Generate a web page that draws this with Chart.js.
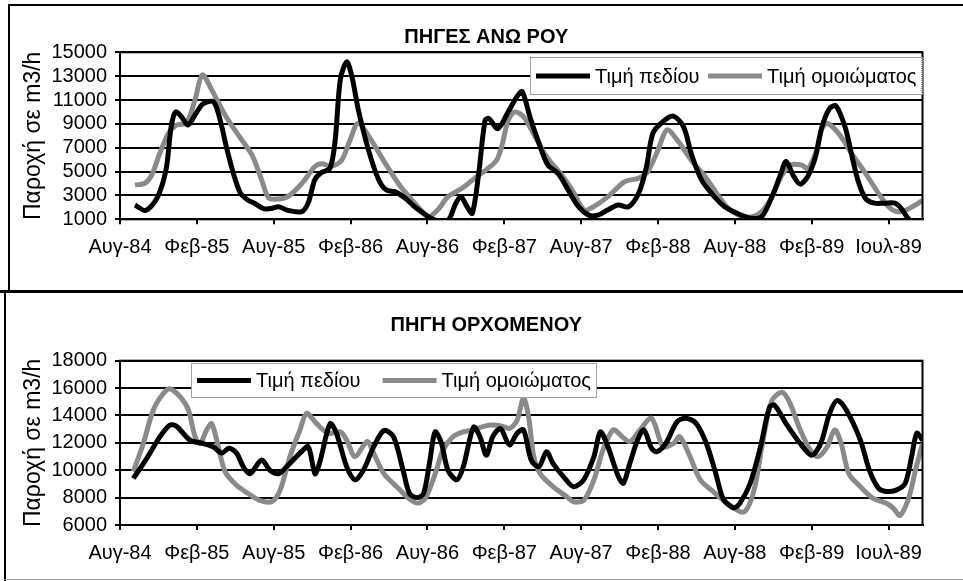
<!DOCTYPE html>
<html>
<head>
<meta charset="utf-8">
<script src="https://cdn.jsdelivr.net/npm/chart.js@4.4.0/dist/chart.umd.min.js"></script>
<style>
html, body { margin: 0; padding: 0; background: #fff; width: 963px; height: 581px; overflow: hidden; }
.panel { position: absolute; left: 8px; width: 974px; height: 290px; }
#topPanel { top: 0; }
#bottomPanel { top: 291px; }
.rule { position: absolute; background: #000; }
</style>
</head>
<body>
<div class="panel" id="topPanel"><canvas id="rouChart" width="974" height="290"></canvas></div>
<div class="panel" id="bottomPanel"><canvas id="orchChart" width="974" height="290"></canvas></div>
<div class="rule" style="left:8px;top:4px;width:955px;height:2px"></div>
<div class="rule" style="left:8px;top:4px;width:2px;height:287px"></div>
<div class="rule" style="left:0;top:290px;width:963px;height:3px"></div>
<div class="rule" style="left:4px;top:290px;width:2px;height:291px"></div>
<div class="rule" style="left:4px;top:579px;width:959px;height:1px;background:#999"></div>
<script>
// x axis: months counted from Aug-84, labelled every 6 months
var tickMonths = [0, 6, 12, 18, 24, 30, 36, 42, 48, 54, 60];
var tickLabels = ['Αυγ-84', 'Φεβ-85', 'Αυγ-85', 'Φεβ-86', 'Αυγ-86', 'Φεβ-87', 'Αυγ-87', 'Φεβ-88', 'Αυγ-88', 'Φεβ-89', 'Ιουλ-89'];
var seriesNames = ['Τιμή πεδίου', 'Τιμή ομοιώματος'];

// ΠΗΓΕΣ ΑΝΩ ΡΟΥ - field values
var rouFieldMonths = [1.17, 2.0, 2.9, 3.6, 4.0, 4.35, 4.8, 5.3, 6.0, 6.5, 7.3, 7.8, 8.3, 8.85, 9.4, 10.0, 10.5, 11.2, 11.8, 12.4,
    13.1, 14.2, 14.7, 15.2, 15.7, 16.4, 16.8, 17.2, 17.7, 18.1, 18.6, 19.4, 20.2, 20.8, 21.5, 22.3, 23.0, 24.1, 24.7, 25.6,
    26.2, 26.6, 27.1, 27.5, 28.0, 28.5, 28.8, 29.5, 30.3, 31.0, 31.4, 32.0, 32.7, 33.4, 34.2, 35.0, 35.8, 36.6, 37.3, 38.1,
    38.9, 39.7, 40.5, 41.1, 41.6, 42.4, 43.2, 44.0, 44.6, 45.4, 46.4, 47.2, 47.9, 48.5, 49.3, 50.1, 50.9, 51.6, 52.0, 52.6,
    53.1, 53.7, 54.3, 54.8, 55.4, 55.9, 56.6, 57.1, 57.6, 58.2, 58.9, 59.7, 60.5, 61.0, 61.5, 62.0];
var rouFieldFlow = [2200, 1750, 2800, 5200, 8800, 10000, 9600, 8900, 10000, 10700, 10850, 9400, 7100, 4850, 3200, 2600, 2350, 1900, 1900, 2050,
    1750, 1650, 2400, 4300, 4900, 5300, 7650, 12700, 14200, 13000, 10200, 6800, 4300, 3450, 3300, 2750, 2050, 1200, 900, 900,
    2300, 2900, 2050, 1500, 4800, 9300, 9450, 8600, 10000, 11300, 11700, 9600, 7400, 5550, 4850, 3450, 2050, 1350, 1350, 1800,
    2200, 2050, 3200, 5400, 8200, 9200, 9650, 8750, 6500, 4300, 2900, 2050, 1650, 1350, 1080, 1220, 2900, 4850, 5850, 4600,
    3950, 4600, 6250, 8750, 10300, 10500, 8750, 6500, 4300, 2750, 2350, 2350, 2350, 1900, 1100, 600];

// ΠΗΓΕΣ ΑΝΩ ΡΟΥ - model values
var rouModelMonths = [1.17, 1.95, 2.47, 3.1, 3.77, 4.4, 5.2, 5.85, 6.43, 7.16, 8.2, 9.24, 10.3, 11.06, 11.6, 12.36, 13.1, 14.2, 15.2, 15.74,
    16.5, 17.3, 17.96, 18.6, 19.6, 20.7, 21.8, 22.8, 23.6, 24.1, 24.9, 25.6, 26.7, 27.7, 28.7, 29.4, 29.8, 30.3, 30.8, 31.5,
    32.4, 33.4, 34.5, 35.3, 36.2, 36.8, 38.1, 39.4, 40.5, 41.2, 42.0, 42.7, 43.6, 44.6, 45.7, 46.5, 47.5, 48.3, 49.3, 50.1,
    50.9, 51.6, 52.3, 53.2, 53.7, 54.3, 54.8, 55.2, 56.1, 57.1, 58.2, 59.2, 60.0, 60.6, 61.3, 62.1, 62.65];
var rouModelFlow = [3880, 4020, 4700, 6500, 8200, 8900, 9100, 11000, 13100, 11850, 9750, 8050, 6400, 4300, 2800, 2700, 2900, 4000, 5400, 5650,
    5450, 5950, 7650, 9050, 7650, 5700, 3900, 2600, 1650, 1200, 1900, 2900, 3600, 4450, 5250, 5950, 7100, 9300, 10000, 9600,
    7950, 6100, 4700, 3450, 1800, 1950, 2900, 4150, 4450, 5000, 6800, 8500, 7500, 5950, 4550, 3300, 1900, 1350, 1200, 1650,
    2900, 4550, 5550, 5550, 5250, 6550, 8600, 9050, 8200, 6550, 4850, 3200, 2050, 1650, 1750, 2200, 2600];

// ΠΗΓΗ ΟΡΧΟΜΕΝΟΥ - field values
var orchFieldMonths = [1.04, 2.08, 3.12, 3.9, 4.43, 5.46, 6.5, 7.3, 7.94, 8.5, 9.1, 9.63, 10.15, 11.06, 11.7, 12.4, 13.0, 14.05, 14.7, 15.22,
    15.6, 16.4, 16.9, 17.7, 18.35, 19.0, 19.8, 20.6, 21.35, 22.1, 22.6, 23.2, 23.7, 24.2, 24.6, 25.1, 25.6, 26.3, 26.8, 27.6,
    28.1, 28.6, 29.1, 29.7, 30.4, 31.0, 31.5, 32.1, 32.7, 33.3, 33.8, 34.6, 35.4, 36.2, 37.0, 37.5, 38.1, 38.9, 39.3, 39.8,
    40.4, 40.9, 41.5, 41.9, 42.6, 43.5, 44.2, 45.0, 45.8, 46.5, 47.1, 47.9, 48.4, 49.2, 50.0, 50.7, 51.1, 52.0, 53.1, 54.0,
    54.7, 55.4, 56.0, 56.7, 57.8, 58.5, 59.2, 59.8, 60.6, 61.3, 61.8, 62.2, 62.65];
var orchFieldFlow = [9400, 10850, 12450, 13300, 13200, 12200, 11950, 11700, 11250, 11600, 11250, 10250, 9750, 10750, 10000, 9750, 10250, 11250, 11700, 9750,
    10600, 13400, 12700, 10250, 9300, 10000, 11700, 12900, 12450, 10000, 8300, 8000, 8300, 10750, 12800, 11950, 10000, 9300, 10250, 13150,
    12450, 11100, 12450, 13050, 11850, 12700, 12950, 10750, 10250, 11350, 10500, 9550, 8800, 9300, 11000, 12800, 11700, 9550, 9050, 10500,
    12200, 12950, 11600, 11350, 11950, 13550, 13800, 13400, 11900, 9800, 7900, 7250, 7600, 9050, 11700, 14600, 14750, 13400, 11950, 11100,
    11950, 14150, 15100, 14400, 12200, 10000, 8700, 8450, 8550, 9050, 11000, 12700, 12200];

// ΠΗΓΗ ΟΡΧΟΜΕΝΟΥ - model values
var orchModelMonths = [1.04, 1.82, 2.6, 3.38, 3.9, 4.7, 5.34, 5.86, 6.25, 6.77, 7.16, 7.68, 8.2, 9.1, 10.0, 10.9, 11.84, 12.5, 13.27, 14.05,
    14.57, 15.35, 16.26, 17.2, 17.7, 18.35, 19.3, 19.8, 20.6, 21.6, 22.6, 23.3, 23.9, 24.7, 25.2, 26.0, 26.8, 27.6, 28.4, 29.1,
    29.9, 30.4, 31.0, 31.5, 31.9, 32.3, 32.8, 33.8, 34.9, 35.4, 36.2, 37.0, 37.7, 38.5, 39.2, 39.8, 40.6, 41.5, 42.4, 43.2,
    43.7, 44.5, 45.3, 46.3, 47.4, 48.7, 49.5, 50.2, 50.9, 51.7, 52.3, 53.1, 53.9, 54.5, 55.2, 55.8, 56.3, 56.9, 57.8, 58.8,
    59.9, 60.4, 60.9, 61.6, 62.1, 62.65];
var orchModelFlow = [9900, 11950, 14400, 15600, 15950, 15350, 14400, 12450, 11950, 12950, 13400, 11700, 9900, 8900, 8300, 7800, 7700, 8550, 11000, 12950,
    14150, 13400, 12700, 12800, 12200, 11000, 12100, 11250, 9750, 8800, 7900, 7600, 8050, 10000, 11450, 12450, 12800, 12950, 13200, 13300,
    13200, 13050, 13650, 15250, 13900, 11000, 9750, 8800, 8050, 7700, 7800, 9300, 11450, 12950, 12450, 12100, 12950, 13800, 11700, 11950,
    12450, 11000, 9300, 8450, 7600, 6950, 8550, 12200, 15100, 15700, 14900, 12950, 11450, 11000, 11700, 12950, 11950, 9750, 8800, 7950,
    7550, 7200, 6700, 8050, 10000, 11950];

var FONT = "'Liberation Sans', Arial, sans-serif";
Chart.defaults.font.family = FONT;
Chart.defaults.color = '#000';

// left padding moves the centre of the chart title; the y title is pulled back left
var PAD_LEFT = 42;
var PLOT_LEFT = 112;

function points(months, flows) {
    return months.map(function (m, i) { return { x: m, y: flows[i] }; });
}

// black frame round the plot area
var plotFrame = {
    id: 'plotFrame',
    afterDatasetsDraw: function (chart) {
        var a = chart.chartArea, ctx = chart.ctx;
        ctx.save();
        ctx.strokeStyle = '#000';
        ctx.lineWidth = 2;
        ctx.strokeRect(a.left, a.top, a.right - a.left, a.bottom - a.top);
        ctx.restore();
    }
};

// legend drawn inside the plot, like the Excel one
var boxLegend = {
    id: 'boxLegend',
    afterDatasetsDraw: function (chart, args, o) {
        var ctx = chart.ctx, b = o.box;
        var items = chart.data.datasets;
        ctx.save();
        ctx.fillStyle = '#fff';
        ctx.fillRect(b.x, b.y, b.w, b.h);
        ctx.setLineDash([1, 1]);
        ctx.strokeStyle = '#444';
        ctx.lineWidth = 1;
        ctx.strokeRect(b.x + 0.5, b.y + 0.5, b.w - 1, b.h - 1);
        ctx.setLineDash([]);
        ctx.font = '20px ' + FONT;
        ctx.textBaseline = 'middle';
        var widths = items.map(function (d) { return ctx.measureText(d.label).width; });
        var sample = 54, pad = 6, gapText = 5;
        var used = pad * 2 + items.length * (sample + gapText) + widths.reduce(function (s, w) { return s + w; }, 0);
        var gap = (b.w - used) / (items.length - 1);
        var x = b.x + pad, cy = b.y + b.h / 2;
        items.forEach(function (d, i) {
            ctx.strokeStyle = d.borderColor;
            ctx.lineWidth = d.borderWidth;
            ctx.beginPath();
            ctx.moveTo(x, cy);
            ctx.lineTo(x + sample, cy);
            ctx.stroke();
            x += sample + gapText;
            ctx.fillStyle = '#000';
            ctx.fillText(d.label, x, cy + 1);
            x += widths[i] + gap;
        });
        ctx.restore();
    }
};

function buildChart(id, o) {
    return new Chart(document.getElementById(id), {
        type: 'line',
        data: {
            datasets: [{
                label: seriesNames[0],
                data: points(o.fieldMonths, o.fieldFlow),
                borderColor: '#000',
                borderWidth: 5,
                pointRadius: 0,
                tension: 0.3
            }, {
                label: seriesNames[1],
                data: points(o.modelMonths, o.modelFlow),
                borderColor: '#8a8a8a',
                borderWidth: 5,
                pointRadius: 0,
                tension: 0.3
            }]
        },
        options: {
            responsive: false,
            animation: false,
            layout: { padding: { left: PAD_LEFT, right: 59.5, top: 0, bottom: 0 } },
            plugins: {
                legend: { display: false },
                tooltip: { enabled: false },
                title: {
                    display: true,
                    text: o.title,
                    color: '#000',
                    font: { size: 20, weight: 'bold' },
                    padding: { top: o.titleTop, bottom: o.titleBottom }
                },
                boxLegend: { box: o.legendBox }
            },
            scales: {
                x: {
                    type: 'linear',
                    min: 0,
                    max: 62.65,
                    afterBuildTicks: function (s) { s.ticks = tickMonths.map(function (v) { return { value: v }; }); },
                    afterFit: function (s) { s.height = o.xAxisHeight; },
                    ticks: {
                        autoSkip: false,
                        maxRotation: 0,
                        padding: 11,
                        color: '#000',
                        font: { size: 20 },
                        callback: function (v, i) { return tickLabels[i]; }
                    },
                    grid: { drawOnChartArea: false, drawTicks: true, tickLength: 5, color: '#000', lineWidth: 2 },
                    border: { color: '#000', width: 2 }
                },
                y: {
                    min: o.yMin,
                    max: o.yMax,
                    afterFit: function (s) { s.width = PLOT_LEFT - PAD_LEFT; },
                    ticks: {
                        stepSize: 2000,
                        autoSkip: false,
                        padding: 8,
                        color: '#000',
                        font: { size: 20 },
                        callback: function (v) { return String(v); }
                    },
                    grid: { color: '#000', lineWidth: 2, tickLength: 5 },
                    border: { color: '#000', width: 2 },
                    title: {
                        display: true,
                        text: 'Παροχή σε m3/h',
                        color: '#000',
                        font: { size: 23 },
                        padding: { top: 26 - PAD_LEFT - 13.8, bottom: 0 }
                    }
                }
            }
        },
        plugins: [plotFrame, boxLegend]
    });
}

buildChart('rouChart', {
    title: 'ΠΗΓΕΣ ΑΝΩ ΡΟΥ',
    fieldMonths: rouFieldMonths, fieldFlow: rouFieldFlow,
    modelMonths: rouModelMonths, modelFlow: rouModelFlow,
    yMin: 1000, yMax: 15000,
    titleTop: 25.5, titleBottom: 2.8, xAxisHeight: 70.7,
    legendBox: { x: 522, y: 57, w: 392.5, h: 38 }
});

buildChart('orchChart', {
    title: 'ΠΗΓΗ ΟΡΧΟΜΕΝΟΥ',
    fieldMonths: orchFieldMonths, fieldFlow: orchFieldFlow,
    modelMonths: orchModelMonths, modelFlow: orchModelFlow,
    yMin: 6000, yMax: 18000,
    titleTop: 22, titleBottom: 23.7, xAxisHeight: 56,
    legendBox: { x: 183, y: 72, w: 406, h: 35 }
});
</script>
</body>
</html>
